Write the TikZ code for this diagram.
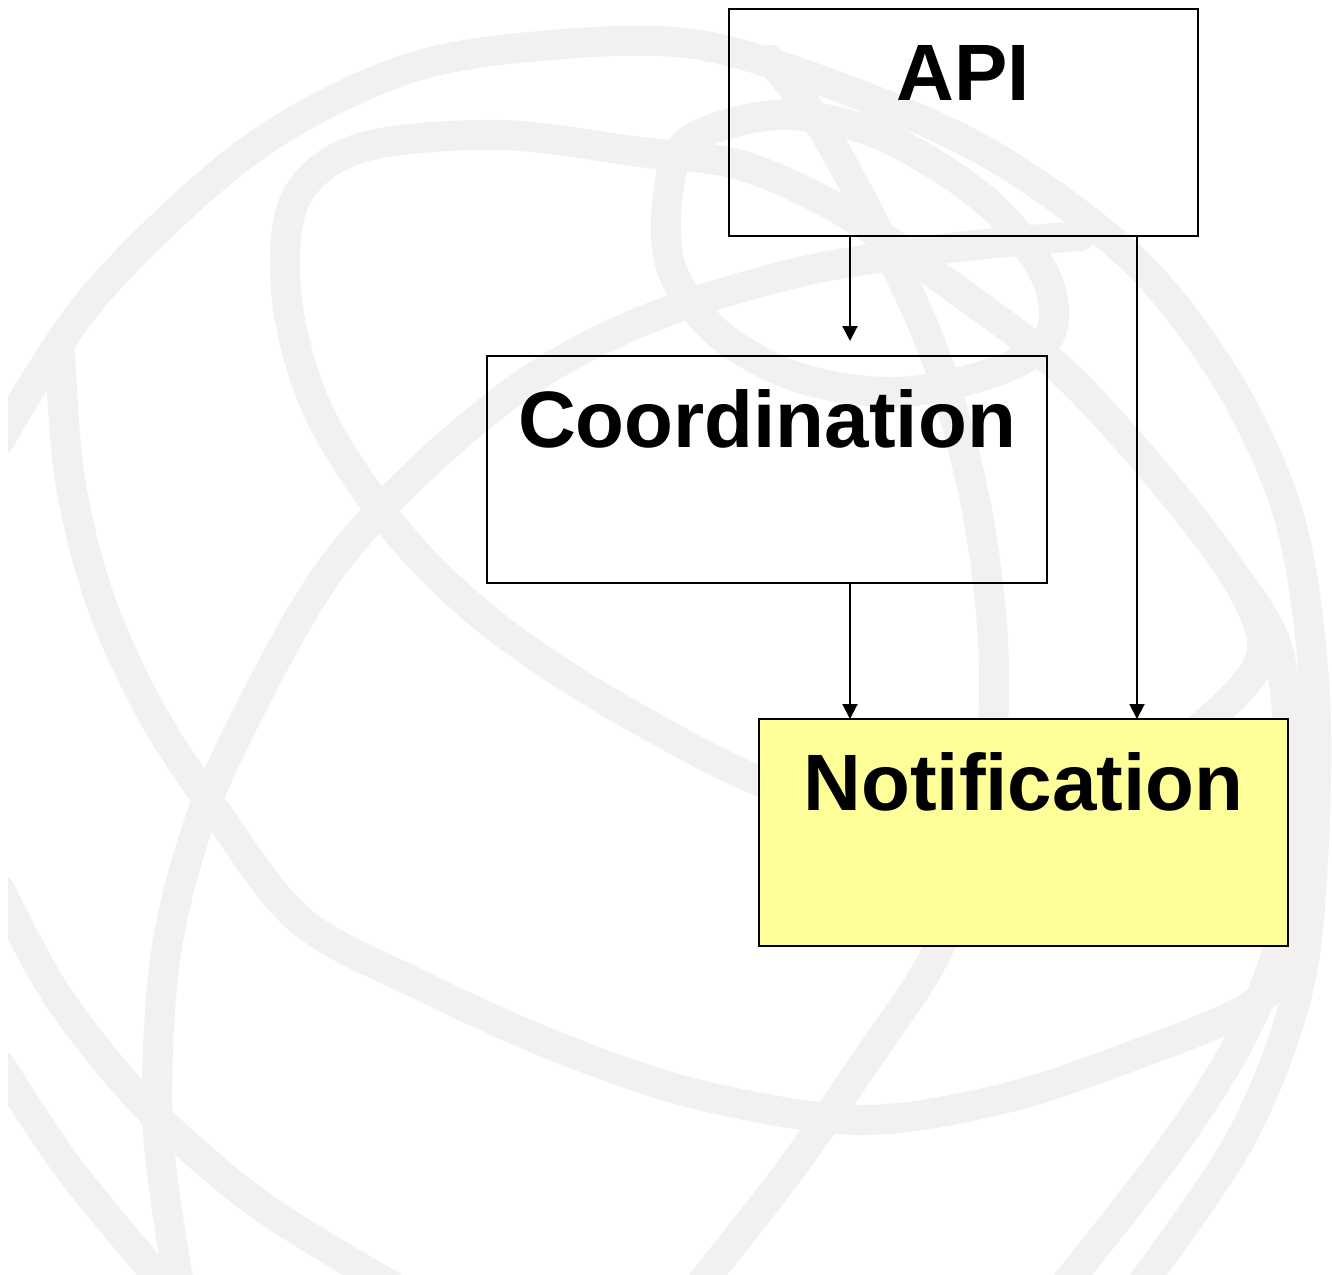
\documentclass[tikz,border=0pt]{standalone}
\usepackage{fontspec}
\setmainfont{Liberation Sans}
\usetikzlibrary{arrows.meta}
\definecolor{globegray}{RGB}{242,241,239}
\definecolor{notefill}{RGB}{255,255,153}
\begin{document}
\begin{tikzpicture}[x=0.5pt,y=-0.5pt,
  band/.style={draw=globegray, line width=15pt, line join=round, line cap=round},
  box/.style={draw=black, line width=1pt, inner xsep=0pt, inner ysep=0pt, outer sep=0pt,
    anchor=north west, font=\fontsize{40}{48}\selectfont\bfseries,
    text height=45.6pt, text depth=67.9pt},
  link/.style={draw=black, line width=1pt, -{Triangle[length=7.5pt,width=7.5pt]}}]

% page background and size
\fill[white] (0,0) rectangle (1332,1274);

% faint globe watermark
\begin{scope}
\clip (8,0) rectangle (1332,1274);
% outer rim
\draw[band] plot[smooth, tension=0.55] coordinates {(0,440) (95,295) (250,150) (404,70) (552,45) (700,45) (860,95) (1000,160) (1136,262) (1230,385) (1290,520) (1314,680) (1314,840) (1298,990) (1240,1140) (1130,1300)};
% long tilted ellipse
\draw[band] plot[smooth cycle, tension=0.55] coordinates {(640,152) (500,135) (360,148) (295,200) (287,300) (320,415) (400,535) (500,630) (640,720) (800,795) (1000,815) (1150,760) (1230,700) (1262,650) (1240,585) (1170,490) (1063,372) (950,285) (840,210) (740,165)};
% small upper ellipse
\draw[band] plot[smooth cycle, tension=0.55] coordinates {(690,140) (780,115) (880,135) (985,200) (1045,275) (1050,335) (1000,370) (900,392) (800,378) (720,335) (672,270) (668,195)};
% meridian through the middle
\draw[band] plot[smooth, tension=0.55] coordinates {(770,60) (820,125) (880,235) (935,355) (975,500) (993,640) (990,760) (965,880) (930,965) (870,1055) (790,1170) (700,1285)};
% left meridian sweeping up to the right
\draw[band] plot[smooth, tension=0.55] coordinates {(180,1290) (158,1130) (165,960) (200,820) (260,690) (330,570) (420,470) (530,380) (650,318) (800,272) (950,248) (1080,236)};
% lower parallel
\draw[band] plot[smooth, tension=0.55] coordinates {(60,352) (70,480) (100,600) (150,710) (215,810) (300,920) (420,985) (560,1048) (700,1095) (860,1120) (1006,1098) (1140,1053) (1240,1012) (1296,968)};
% bottom-left arcs
\draw[band] plot[smooth, tension=0.55] coordinates {(0,890) (60,1000) (150,1110) (260,1205) (390,1285)};
\draw[band] plot[smooth, tension=0.55] coordinates {(0,1065) (70,1170) (165,1285)};
% right arc running down to the bottom
\draw[band] plot[smooth, tension=0.55] coordinates {(1236,578) (1278,650) (1290,780) (1282,930) (1240,1040) (1170,1150) (1065,1285)};
\end{scope}

% boxes
\node[box, minimum width=234.5pt] (api) at (729,9) {API};
\node[box, minimum width=280pt] (coord) at (487,356) {Coordination};
\node[box, minimum width=264.5pt, fill=notefill] (notif) at (759,719) {Notification};

% connector columns
\coordinate (colA) at (850,0);
\coordinate (colB) at (1137,0);

% connectors
\draw[link, shorten >=7.5pt] (api.south -| colA) -- (coord.north -| colA);
\draw[link] (coord.south -| colA) -- (notif.north -| colA);
\draw[link] (api.south -| colB) -- (notif.north -| colB);
\end{tikzpicture}
\end{document}
